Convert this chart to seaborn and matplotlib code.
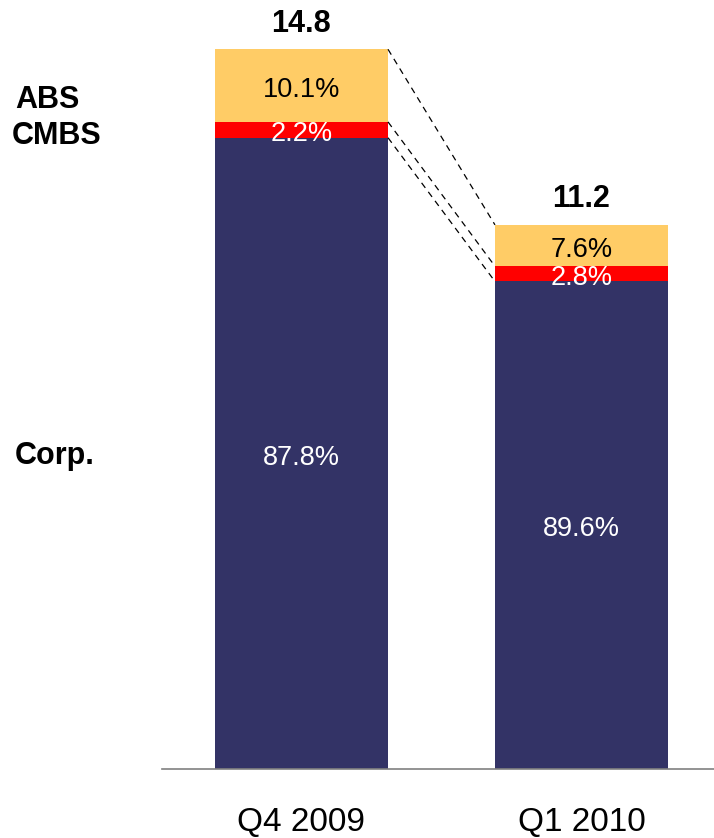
import matplotlib
matplotlib.use("Agg")
import matplotlib.pyplot as plt
import numpy as np
import seaborn as sns

# Portfolio totals and composition (share of total, %)
periods = ["Q4 2009", "Q1 2010"]
totals = [14.8, 11.2]
segments = ["Corp.", "CMBS", "ABS"]
corp_pct = [87.8, 89.6]
cmbs_pct = [2.2, 2.8]
abs_pct = [10.1, 7.6]

colors = {"Corp.": "#333366", "CMBS": "#FF0000", "ABS": "#FFCC66"}
label_colors = {"Corp.": "white", "CMBS": "white", "ABS": "black"}

sns.set_theme(style="white")
plt.rcParams["font.family"] = ["Liberation Sans", "DejaVu Sans"]
plt.rcParams["text.color"] = "black"
plt.rcParams["xtick.color"] = "black"

fig = plt.figure(figsize=(7.14, 8.38), dpi=100)
ax = fig.add_axes([162 / 714, 69 / 838, 552 / 714, 769 / 838])

bar_w = 0.618
pcts = {"Corp.": corp_pct, "CMBS": cmbs_pct, "ABS": abs_pct}
bottoms = np.zeros(len(periods))
tops = {}
for seg in segments:
    heights = np.array(totals) * np.array(pcts[seg]) / 100.0
    sns.barplot(x=periods, y=heights, bottom=bottoms, color=colors[seg],
                saturation=1, width=bar_w, errorbar=None, ax=ax, linewidth=0)
    for i, (b, h, p) in enumerate(zip(bottoms, heights, pcts[seg])):
        ax.annotate(f"{p}%", xy=(i, b + h / 2), xytext=(0, -3),
                    textcoords="offset points", ha="center", va="center",
                    fontsize=19.5, color=label_colors[seg])
    bottoms = bottoms + heights
    tops[seg] = bottoms.copy()

# Connector lines between matching segment tops
for seg in segments:
    ax.plot([0 + bar_w / 2, 1 - bar_w / 2], [tops[seg][0], tops[seg][1]],
            color="black", lw=0.9, ls=(0, (5, 4)), zorder=3)

# Totals above the stacks
for i, t in enumerate(totals):
    ax.annotate(f"{t}", xy=(i, tops["ABS"][i]), xytext=(0, 7.5),
                textcoords="offset points", ha="center", va="bottom",
                fontsize=22, fontweight="bold", color="black")

ax.set_xlim(-0.498, 1.473)
ax.set_ylim(0, 14.8 * 769 / 719)
ax.set_yticks([])
ax.set_ylabel("")
ax.set_xticks(range(len(periods)))
ax.set_xticklabels(periods, fontsize=24, color="black")
ax.tick_params(axis="x", length=0, pad=27)
for s in ["top", "right", "left"]:
    ax.spines[s].set_visible(False)
ax.spines["bottom"].set_color("#808080")
ax.spines["bottom"].set_linewidth(1.2)

# Segment legend on the left
for name, ypix, xpix in [("ABS", 100, 15), ("CMBS", 136, 12), ("Corp.", 456, 15)]:
    fig.text(xpix / 714, 1 - ypix / 838, name, ha="left", va="center",
             fontsize=22, fontweight="bold", color="black")

fig.savefig("out.png", dpi=100)
